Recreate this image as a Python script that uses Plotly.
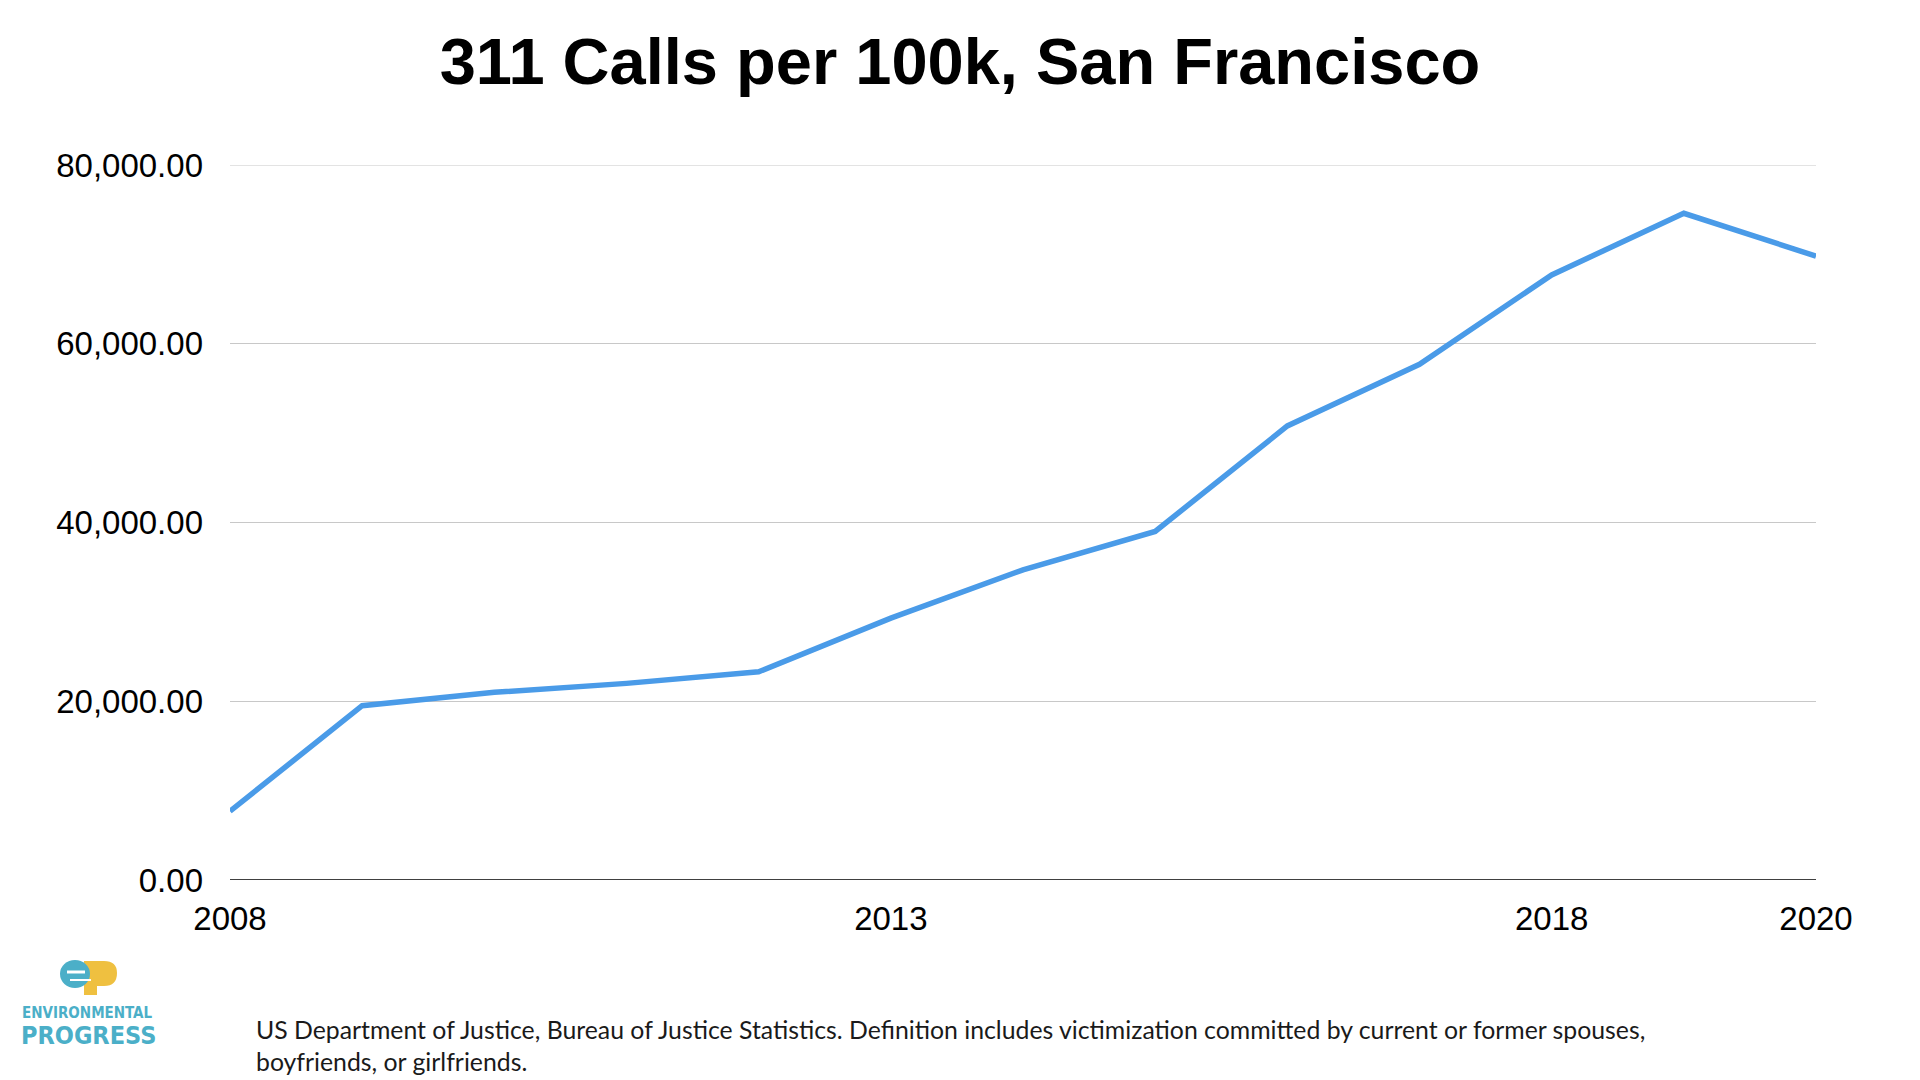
import plotly.graph_objects as go

years = [2008, 2009, 2010, 2011, 2012, 2013, 2014, 2015, 2016, 2017, 2018, 2019, 2020]
calls_per_100k = [7700, 19500, 21000, 22000, 23300, 29300, 34700, 39000, 50800, 57700, 67700, 74600, 69800]
x_tick_vals = [2008, 2013, 2018, 2020]
y_tick_vals = [0, 20000, 40000, 60000, 80000]
y_tick_text = ["0.00", "20,000.00", "40,000.00", "60,000.00", "80,000.00"]

title_text = "311 Calls per 100k, San Francisco"
note_line1 = ("US Department of Justice, Bureau of Justice Statistics. Definition includes "
              "victimization committed by current or former spouses,")
note_line2 = "boyfriends, or girlfriends."

OFF = 8  # page body margin
W, H = 1920 - OFF, 1080 - OFF
L, T = 230 - OFF, 165 - OFF
R = W - (1816 - OFF)
B = H - (880 - OFF)
PW, PH = W - L - R, H - T - B


def px(x):
    return (x - OFF - L) / PW


def py(y):
    return (H - B - (y - OFF)) / PH


fig = go.Figure()
fig.add_trace(go.Scatter(
    x=years, y=calls_per_100k, mode="lines",
    line=dict(color="#4A9BE8", width=5.5),
    hoverinfo="x+y", showlegend=False,
))

fig.update_layout(
    width=W, height=H,
    margin=dict(l=L, r=R, t=T, b=B),
    paper_bgcolor="white", plot_bgcolor="white",
    font=dict(family="Liberation Sans, Arial, sans-serif", color="black"),
    title=dict(
        text=f"<b>{title_text}</b>",
        x=0.5 - OFF / 2 / W, xref="container", xanchor="center",
        y=1 - (61 - OFF) / H, yref="container", yanchor="middle",
        font=dict(size=65, family="Liberation Sans, Arial, sans-serif", color="black"),
    ),
    xaxis=dict(
        range=[2008, 2020], tickvals=x_tick_vals, ticktext=[str(v) for v in x_tick_vals],
        showgrid=False, zeroline=False, showline=False, ticks="",
        tickfont=dict(size=33, color="black"), ticklabelstandoff=16,
    ),
    yaxis=dict(
        range=[0, 80000], tickvals=y_tick_vals, ticktext=y_tick_text,
        showgrid=True, gridcolor="#C8C8C8", gridwidth=1,
        zeroline=False, showline=False, ticks="",
        tickfont=dict(size=33, color="black"), ticklabelstandoff=26,
    ),
)

# top gridline (at range edge) and zero baseline
fig.add_shape(type="line", xref="paper", yref="y", x0=0, x1=1, y0=80000, y1=80000,
              line=dict(color="#C8C8C8", width=1), layer="below")
fig.add_shape(type="line", xref="paper", yref="y", x0=0, x1=1, y0=0, y1=0,
              line=dict(color="#000000", width=1.6), layer="above")

# logo: "ep" mark
yellow = "#EFC040"
blue = "#4BAFC8"
fig.add_shape(type="path", xref="paper", yref="paper",
              path=(f"M {px(84)},{py(961)} L {px(104)},{py(961)} "
                    f"Q {px(117)},{py(961)} {px(117)},{py(973)} "
                    f"Q {px(117)},{py(986)} {px(104)},{py(986)} "
                    f"L {px(97)},{py(986)} L {px(97)},{py(995)} L {px(84)},{py(995)} Z"),
              fillcolor=yellow, line=dict(width=0))
fig.add_shape(type="circle", xref="paper", yref="paper",
              x0=px(60), x1=px(90), y0=py(988), y1=py(960),
              fillcolor=blue, line=dict(width=0))
fig.add_shape(type="line", xref="paper", yref="paper",
              x0=px(67), x1=px(85), y0=py(972), y1=py(972),
              line=dict(color="white", width=3))
fig.add_shape(type="line", xref="paper", yref="paper",
              x0=px(70), x1=px(91), y0=py(980), y1=py(980),
              line=dict(color="white", width=2))

logo_font = "Liberation Sans Narrow, DejaVu Sans Condensed, Arial Narrow, sans-serif"
fig.add_annotation(text="<b>ENVIRONMENTAL</b>", xref="paper", yref="paper",
                   x=px(87), y=py(1013), xanchor="center", yanchor="middle",
                   showarrow=False, font=dict(size=15, color=blue, family=logo_font))
fig.add_annotation(text="<b>PROGRESS</b>", xref="paper", yref="paper",
                   x=px(88), y=py(1035), xanchor="center", yanchor="middle",
                   showarrow=False, font=dict(size=25, color=blue, family=logo_font))

note_font = dict(size=24.8, color="#1a1a1a", family="Lato, Noto Sans, sans-serif")
fig.add_annotation(text=note_line1, xref="paper", yref="paper",
                   x=px(254), y=py(1029), xanchor="left", yanchor="middle",
                   showarrow=False, font=note_font)
fig.add_annotation(text=note_line2, xref="paper", yref="paper",
                   x=px(254), y=py(1061), xanchor="left", yanchor="middle",
                   showarrow=False, font=note_font)

fig.write_html("out.html")
